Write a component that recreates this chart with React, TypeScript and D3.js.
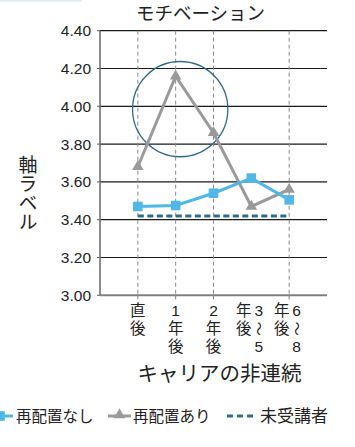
import React from "react";
import * as d3 from "d3";

// Categories along the x axis (career discontinuity period)
const categories = ["直後", "1年後", "2年後", "3〜5年後", "6〜8年後"];
// Vertical tick-label text, columns listed right to left
const tickLabelColumns = [["直後"], ["1年後"], ["2年後"], ["3〜5", "年後"], ["6〜8", "年後"]];
// Categories that get a dashed vertical guide and a tick mark
const guideCategories = ["直後", "1年後", "2年後", "6〜8年後"];
const yTicks = [3.0, 3.2, 3.4, 3.6, 3.8, 4.0, 4.2, 4.4];

// Series values
const withoutRelocation = [3.47, 3.475, 3.54, 3.62, 3.505];
const withRelocation = [3.68, 4.16, 3.86, 3.47, 3.56];
const nonParticipants = [3.42, 3.42, 3.42, 3.42, 3.42];

// Highlight ring around the peak
const highlightCategory = "1年後";
const highlightOffset = 0.12; // fraction of a category step
const highlightValue = 3.985;
const highlightRadius = 0.252; // in value units

const title = "モチベーション";
const xTitle = "キャリアの非連続";
const yTitle = "軸ラベル";
const legendLabels = ["再配置なし", "再配置あり", "未受講者"];

const W = 355;
const H = 447;
const LEFT = 100;
const RIGHT = 327;
const TOP = 30.7;
const BOTTOM = 295.3;

const BLUE = "#4fb8e8";
const GRAY = "#9a9a9a";
const TEAL = "#2c6c8c";
const FONT = "'Liberation Sans', 'Noto Sans CJK JP', sans-serif";
const JFONT = "'Noto Sans CJK JP', sans-serif";

export default function App() {
  const x = d3.scalePoint<string>().domain(categories).range([LEFT, RIGHT]).padding(1);
  const y = d3.scaleLinear().domain([3.0, 4.4]).range([BOTTOM, TOP]);

  const line = d3
    .line<number>()
    .x((_, i) => x(categories[i]) as number)
    .y((d) => y(d));

  const square = d3.symbol().type(d3.symbolSquare).size(92)();
  const triangle = d3.symbol().type(d3.symbolTriangle).size(58)();

  const cx = (x(highlightCategory) as number) + x.step() * highlightOffset;
  const cy = y(highlightValue);
  const r = y(highlightValue - highlightRadius) - y(highlightValue);

  const colStep = 15;
  const rowStep = 18;
  const rowTop = 310.7;

  return (
    <svg width={W} height={H} style={{ position: "absolute", left: 0, top: 0 }}>
      <rect x={0} y={0} width={W} height={H} fill="#ffffff" />
      <rect x={0} y={0} width={82} height={1.5} fill="#dcedf9" />

      {/* title */}
      <text x={200.5} y={20} textAnchor="middle" fontFamily={JFONT} fontSize={18.5} fill="#222">
        {title}
      </text>

      {/* horizontal gridlines + y ticks */}
      {yTicks.map((t) => (
        <g key={t}>
          {t > 3.0 && (
            <line x1={LEFT} x2={RIGHT} y1={y(t)} y2={y(t)} stroke="#1a1a1a" strokeWidth={1.2} />
          )}
          <line x1={LEFT - 3} x2={LEFT} y1={y(t)} y2={y(t)} stroke="#555" strokeWidth={1} />
          <text
            x={91}
            y={y(t)}
            dy="0.36em"
            textAnchor="end"
            fontFamily={FONT}
            fontSize={15.5}
            fill="#222"
          >
            {t.toFixed(2)}
          </text>
        </g>
      ))}

      {/* vertical dashed guides and x tick marks */}
      {guideCategories.map((c) => (
        <g key={c}>
          <line
            x1={x(c)}
            x2={x(c)}
            y1={TOP}
            y2={BOTTOM}
            stroke="#8a8a8a"
            strokeWidth={1}
            strokeDasharray="4,3"
          />
          <line x1={x(c)} x2={x(c)} y1={BOTTOM} y2={BOTTOM + 4} stroke="#808080" strokeWidth={1} />
        </g>
      ))}

      {/* axes */}
      <line x1={LEFT} x2={LEFT} y1={TOP} y2={BOTTOM} stroke="#707070" strokeWidth={1.6} />
      <line x1={LEFT} x2={RIGHT} y1={BOTTOM} y2={BOTTOM} stroke="#808080" strokeWidth={2} />

      {/* highlight ring */}
      <circle cx={cx} cy={cy} r={r} fill="none" stroke={TEAL} strokeWidth={1.3} />

      {/* non-participants */}
      <path
        d={line(nonParticipants) as string}
        fill="none"
        stroke={TEAL}
        strokeWidth={3}
        strokeDasharray="6,3.5"
      />

      {/* with relocation */}
      <path d={line(withRelocation) as string} fill="none" stroke={GRAY} strokeWidth={3} />
      {withRelocation.map((v, i) => (
        <path
          key={i}
          d={triangle as string}
          transform={`translate(${x(categories[i])},${y(v)})`}
          fill={GRAY}
        />
      ))}

      {/* without relocation */}
      <path d={line(withoutRelocation) as string} fill="none" stroke={BLUE} strokeWidth={3} />
      {withoutRelocation.map((v, i) => (
        <path
          key={i}
          d={square as string}
          transform={`translate(${x(categories[i])},${y(v)})`}
          fill={BLUE}
        />
      ))}

      {/* x tick labels, written vertically */}
      {tickLabelColumns.map((cols, ci) => {
        const base = x(categories[ci]) as number;
        const n = cols.length;
        return (
          <g key={ci}>
            {cols.map((col, k) => {
              const colX = base + ((n - 1) / 2 - k) * colStep;
              return Array.from(col).map((ch, ri) => {
                const cyc = rowTop + ri * rowStep;
                if (ch === "〜") {
                  return (
                    <text
                      key={`${k}-${ri}`}
                      x={colX}
                      y={cyc}
                      dy="0.35em"
                      textAnchor="middle"
                      fontFamily={JFONT}
                      fontSize={14}
                      fill="#222"
                      transform={`rotate(90 ${colX} ${cyc})`}
                    >
                      {ch}
                    </text>
                  );
                }
                return (
                  <text
                    key={`${k}-${ri}`}
                    x={colX}
                    y={cyc}
                    dy="0.36em"
                    textAnchor="middle"
                    fontFamily={FONT}
                    fontSize={15.5}
                    fill="#222"
                  >
                    {ch}
                  </text>
                );
              });
            })}
          </g>
        );
      })}

      {/* x axis title */}
      <text x={219.5} y={381} textAnchor="middle" fontFamily={JFONT} fontSize={20.5} fill="#222">
        {xTitle}
      </text>

      {/* y axis title, vertical writing */}
      <text
        x={28}
        y={155}
        fontFamily={JFONT}
        fontSize={19}
        fill="#222"
        style={{ writingMode: "vertical-rl" }}
      >
        {yTitle}
      </text>

      {/* legend */}
      <g fontFamily={JFONT} fontSize={15.5} fill="#222">
        <line x1={-8} x2={13} y1={416} y2={416} stroke={BLUE} strokeWidth={3} />
        <path d={square as string} transform="translate(0,416)" fill={BLUE} />
        <text x={16} y={422}>{legendLabels[0]}</text>

        <line x1={108} x2={131} y1={416} y2={416} stroke={GRAY} strokeWidth={3} />
        <path d={triangle as string} transform="translate(119.5,415)" fill={GRAY} />
        <text x={133} y={422}>{legendLabels[1]}</text>

        <line
          x1={227}
          x2={256}
          y1={416}
          y2={416}
          stroke={TEAL}
          strokeWidth={3}
          strokeDasharray="6,4"
        />
        <text x={260} y={422} fontSize={17}>{legendLabels[2]}</text>
      </g>
    </svg>
  );
}
